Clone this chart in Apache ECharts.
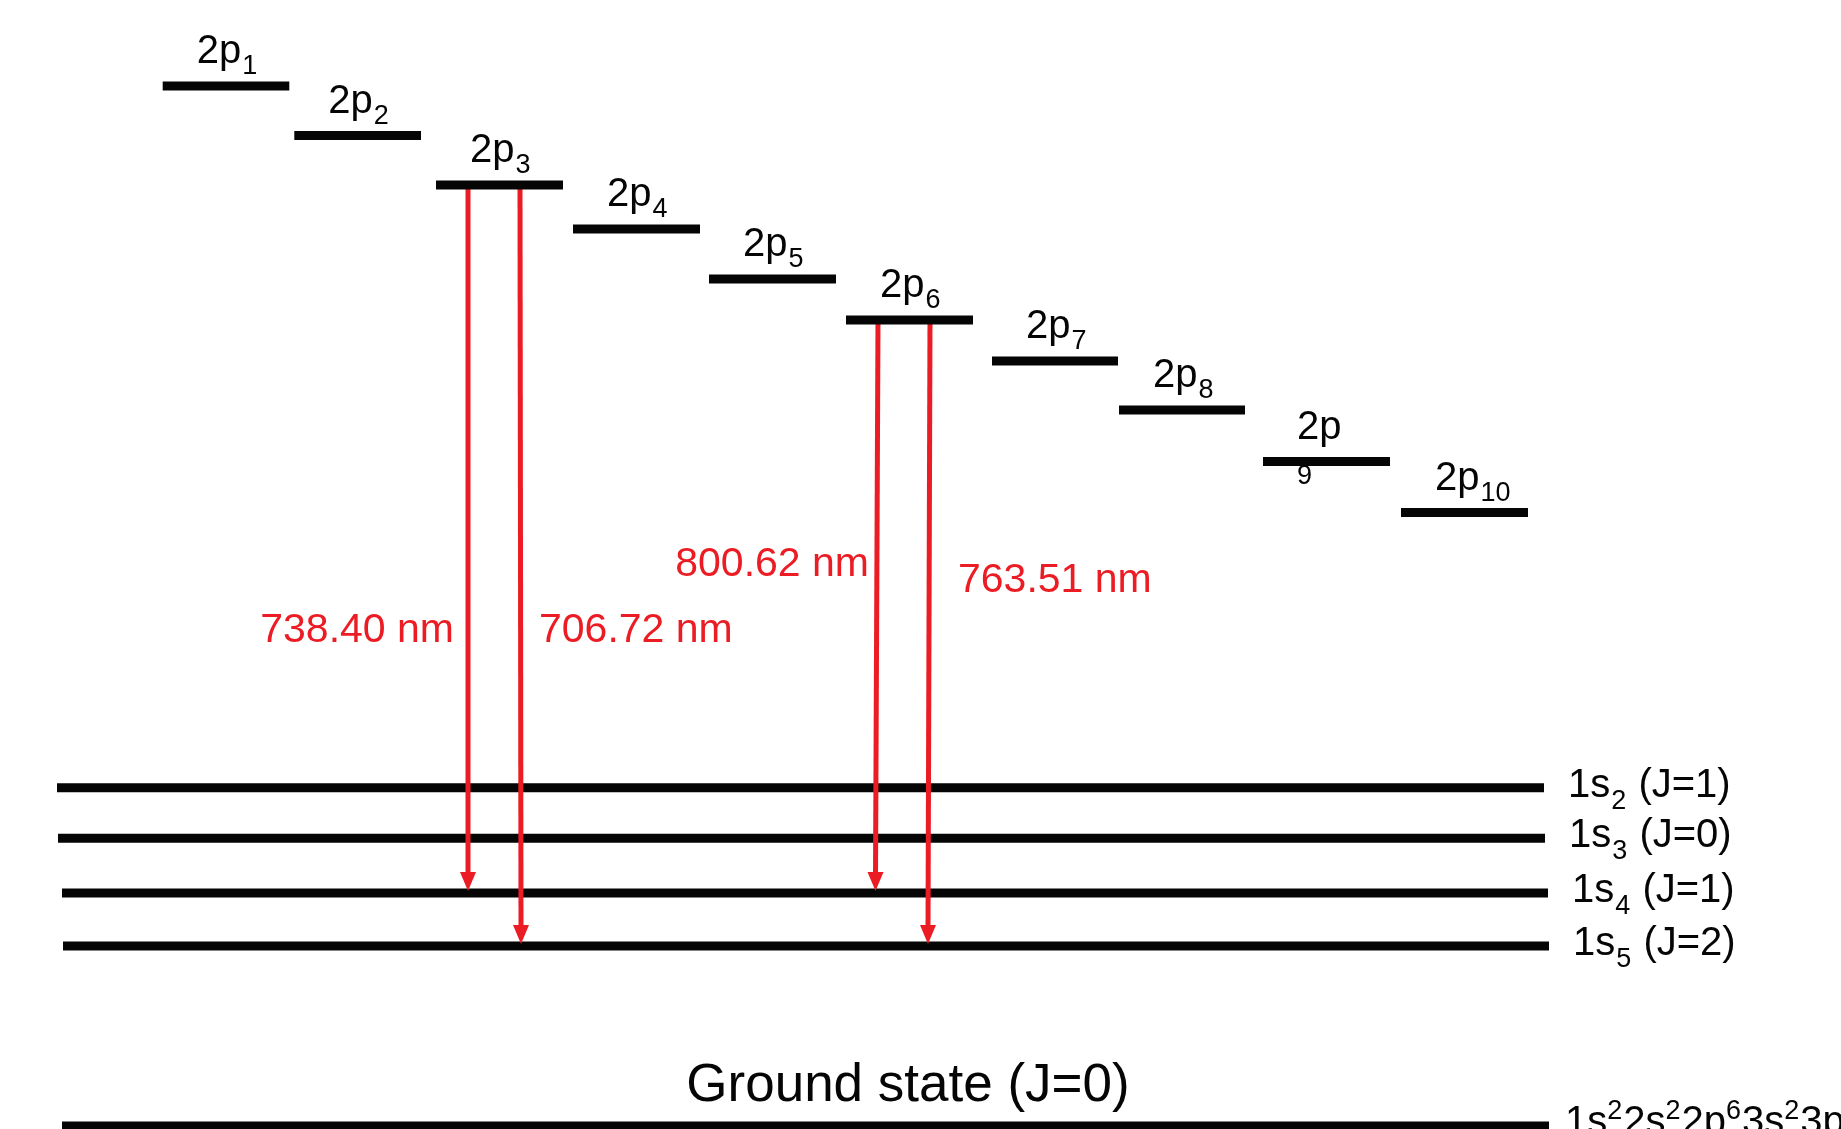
<!DOCTYPE html>
<html>
<head>
<meta charset="utf-8">
<title>Ar 2p - 1s transitions</title>
<script src="https://cdn.jsdelivr.net/npm/echarts@6/dist/echarts.min.js"></script>
<style>
  html, body { margin: 0; padding: 0; background: #fff; }
  #main { width: 1841px; height: 1129px; }
</style>
</head>
<body>
<div id="main"></div>
<script>
// 2p levels (Paschen notation): subscript, horizontal span, relative energy
var pNames = ['1', '2', '3', '4', '5', '6', '7', '8', '9', '10'];
var pFrom = [162.7, 294.3, 436, 573, 709, 846, 992, 1119, 1263, 1401];
var pTo = [289.3, 421, 563, 700, 836, 973, 1118, 1245, 1390, 1528];
var pEnergy = [1043, 993.5, 944, 900, 850, 809, 768, 719, 667.5, 616.5];

// 1s levels
var sNames = ['2', '3', '4', '5'];
var sJ = [1, 0, 1, 2];
var sFrom = [57, 58, 62, 63];
var sTo = [1544, 1545, 1548, 1549];
var sEnergy = [341.3, 290.7, 236, 183];

// ground state
var groundSpan = [62, 1549];
var groundEnergy = 3;
var groundConfig = ['1s', '2', '2s', '2', '2p', '6', '3s', '2', '3p', '6'];

// observed lines: upper index into pNames, lower index into sNames
var lineNames = ['738.40 nm', '706.72 nm', '800.62 nm', '763.51 nm'];
var lineUpper = [2, 2, 5, 5];
var lineLower = [2, 3, 2, 3];
var lineXTop = [468, 520, 878, 930];
var lineXBottom = [468, 521, 875.5, 928];

var FONT = '"Liberation Sans", Arial, Helvetica, sans-serif';
var RED = '#ec1c24';
var BLACK = '#050505';

var measureCtx = document.createElement('canvas').getContext('2d');
function textWidth(str, size) {
  measureCtx.font = size + 'px ' + FONT;
  return measureCtx.measureText(str).width;
}

// text placed by its baseline
function txt(str, x, baseline, size, color, align) {
  return {
    type: 'text',
    style: {
      text: str,
      x: x,
      y: baseline - 0.3465 * size,
      fontSize: size,
      fontFamily: FONT,
      fill: color || BLACK,
      align: align || 'left',
      verticalAlign: 'middle'
    }
  };
}

function bar(a, b, width) {
  return {
    type: 'line',
    shape: { x1: a[0], y1: a[1], x2: b[0], y2: b[1] },
    style: { stroke: BLACK, lineWidth: width || 9, lineCap: 'butt' }
  };
}

// label placement for the wavelength texts (layout, not data)
var arrowLabelLayout = [
  { align: 'right', dx: -14, energy: 484 },
  { align: 'left', dx: 19, energy: 484 },
  { align: 'right', dx: -9, energy: 550 },
  { align: 'left', dx: 28, energy: 534 }
];

var chart = echarts.init(document.getElementById('main'), null, { renderer: 'canvas' });

var option = {
  animation: false,
  backgroundColor: '#ffffff',
  grid: { left: 0, right: 0, top: 0, bottom: 0 },
  xAxis: { type: 'value', min: 0, max: 1841, show: false },
  yAxis: { type: 'value', min: 0, max: 1129, show: false },
  series: [
    {
      // 1s levels
      type: 'custom',
      z: 1,
      clip: false,
      data: sNames.map(function (n, i) { return [sFrom[i], sTo[i], sEnergy[i]]; }),
      encode: { x: [0, 1], y: 2 },
      renderItem: function (params, api) {
        var i = params.dataIndex;
        var a = api.coord([api.value(0), api.value(2)]);
        var b = api.coord([api.value(1), api.value(2)]);
        var x = b[0] + 24;
        var base = a[1] + 12;
        var w1 = textWidth('1s', 40);
        var w2 = textWidth(sNames[i], 27);
        return {
          type: 'group',
          children: [
            bar(a, b),
            txt('1s', x, base, 40),
            txt(sNames[i], x + w1 + 1, base + 11, 27),
            txt(' (J=' + sJ[i] + ')', x + w1 + w2 + 2, base, 40)
          ]
        };
      }
    },
    {
      // ground state
      type: 'custom',
      z: 1,
      clip: false,
      data: [[groundSpan[0], groundSpan[1], groundEnergy]],
      encode: { x: [0, 1], y: 2 },
      renderItem: function (params, api) {
        var a = api.coord([api.value(0), api.value(2)]);
        var b = api.coord([api.value(1), api.value(2)]);
        var children = [bar(a, b), txt('Ground state (J=0)', 908, a[1] - 21, 53, BLACK, 'center')];
        var x = b[0] + 16;
        var base = a[1] + 11;
        groundConfig.forEach(function (part, k) {
          var sup = k % 2 === 1;
          var size = sup ? 27 : 40;
          children.push(txt(part, x, sup ? base - 16.5 : base, size));
          x += textWidth(part, size) + (sup ? 1 : 0);
        });
        return { type: 'group', children: children };
      }
    },
    {
      // transitions
      type: 'custom',
      z: 2,
      clip: false,
      data: lineNames.map(function (n, i) {
        return [lineXTop[i], lineXBottom[i], pEnergy[lineUpper[i]], sEnergy[lineLower[i]]];
      }),
      encode: { x: [0, 1], y: [2, 3] },
      renderItem: function (params, api) {
        var i = params.dataIndex;
        var top = api.coord([api.value(0), api.value(2)]);
        var tip = api.coord([api.value(1), api.value(3) + 2]);
        var head = 19, half = 8;
        var lay = arrowLabelLayout[i];
        var lblY = api.coord([0, lay.energy])[1];
        return {
          type: 'group',
          children: [
            {
              type: 'line',
              shape: { x1: top[0], y1: top[1], x2: tip[0], y2: tip[1] - head + 2 },
              style: { stroke: RED, lineWidth: 5 }
            },
            {
              type: 'polygon',
              shape: { points: [[tip[0] - half, tip[1] - head], [tip[0] + half, tip[1] - head], [tip[0], tip[1]]] },
              style: { fill: RED }
            },
            txt(lineNames[i], top[0] + lay.dx, lblY, 41, RED, lay.align)
          ]
        };
      }
    },
    {
      // 2p levels
      type: 'custom',
      z: 3,
      clip: false,
      data: pNames.map(function (n, i) { return [pFrom[i], pTo[i], pEnergy[i]]; }),
      encode: { x: [0, 1], y: 2 },
      renderItem: function (params, api) {
        var i = params.dataIndex;
        var a = api.coord([api.value(0), api.value(2)]);
        var b = api.coord([api.value(1), api.value(2)]);
        var x = a[0] + 34;
        var base = a[1] - 20;
        var sub;
        if (pNames[i] === '9') {
          // the 9 sits under the bar in the original figure
          sub = txt(pNames[i], x, a[1] + 24, 27);
        } else {
          sub = txt(pNames[i], x + textWidth('2p', 40) + 1, base + 10, 27);
        }
        return {
          type: 'group',
          children: [bar(a, b), txt('2p', x, base, 40), sub]
        };
      }
    }
  ]
};

chart.setOption(option);
</script>
</body>
</html>
